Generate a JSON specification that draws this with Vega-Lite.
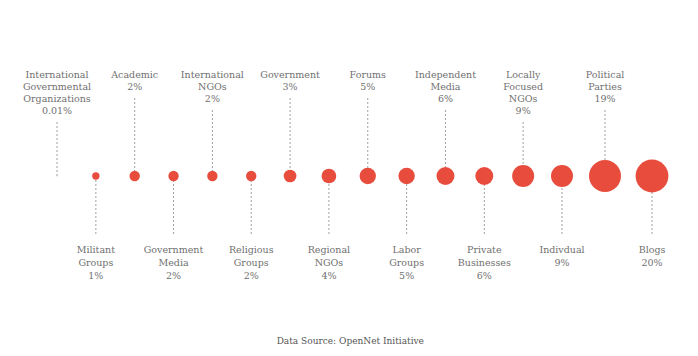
{
  "$schema": "https://vega.github.io/schema/vega-lite/v6.json",
  "width": 698,
  "height": 356,
  "padding": 0,
  "autosize": {"type": "fit", "contains": "padding"},
  "background": "white",
  "config": {"view": {"stroke": null}},
  "data": {
    "values": [
      {"order": 0, "side": "top", "value": 0.01, "label": "International\nGovernmental\nOrganizations\n0.01%"},
      {"order": 1, "side": "bottom", "value": 1, "label": "Militant\nGroups\n1%"},
      {"order": 2, "side": "top", "value": 2, "label": "Academic\n2%"},
      {"order": 3, "side": "bottom", "value": 2, "label": "Government\nMedia\n2%"},
      {"order": 4, "side": "top", "value": 2, "label": "International\nNGOs\n2%"},
      {"order": 5, "side": "bottom", "value": 2, "label": "Religious\nGroups\n2%"},
      {"order": 6, "side": "top", "value": 3, "label": "Government\n3%"},
      {"order": 7, "side": "bottom", "value": 4, "label": "Regional\nNGOs\n4%"},
      {"order": 8, "side": "top", "value": 5, "label": "Forums\n5%"},
      {"order": 9, "side": "bottom", "value": 5, "label": "Labor\nGroups\n5%"},
      {"order": 10, "side": "top", "value": 6, "label": "Independent\nMedia\n6%"},
      {"order": 11, "side": "bottom", "value": 6, "label": "Private\nBusinesses\n6%"},
      {"order": 12, "side": "top", "value": 9, "label": "Locally\nFocused\nNGOs\n9%"},
      {"order": 13, "side": "bottom", "value": 9, "label": "Indivdual\n9%"},
      {"order": 14, "side": "top", "value": 19, "label": "Political\nParties\n19%"},
      {"order": 15, "side": "bottom", "value": 20, "label": "Blogs\n20%"}
    ]
  },
  "transform": [
    {"calculate": "length(split(datum.label, '\\n'))", "as": "lines"},
    {"calculate": "74 + 12 * datum.lines", "as": "ruleTop"}
  ],
  "layer": [
    {
      "transform": [{"filter": "datum.side == 'top'"}],
      "mark": {"type": "rule", "color": "#a0a0a0", "strokeWidth": 1, "strokeDash": [2, 2]},
      "encoding": {
        "x": {"field": "order", "type": "quantitative", "scale": {"domain": [0, 13, 14, 15], "range": [57, 562, 605, 652], "nice": false, "zero": false}, "axis": null},
        "y": {"field": "ruleTop", "type": "quantitative", "scale": {"domain": [0, 356], "range": [0, 356], "nice": false, "zero": false}, "axis": null},
        "y2": {"datum": 176}
      }
    },
    {
      "transform": [{"filter": "datum.side == 'bottom'"}],
      "mark": {"type": "rule", "color": "#a0a0a0", "strokeWidth": 1, "strokeDash": [2, 2]},
      "encoding": {
        "x": {"field": "order", "type": "quantitative"},
        "y": {"datum": 176, "type": "quantitative"},
        "y2": {"datum": 236}
      }
    },
    {
      "mark": {"type": "circle", "color": "#e84c3d", "opacity": 1},
      "encoding": {
        "x": {"field": "order", "type": "quantitative"},
        "y": {"datum": 176, "type": "quantitative"},
        "size": {"field": "value", "type": "quantitative", "scale": {"domain": [0, 20], "range": [0, 1075], "nice": false}, "legend": null}
      }
    },
    {
      "transform": [{"filter": "datum.side == 'top'"}],
      "mark": {"type": "text", "font": "DejaVu Serif", "fontSize": 9.5, "color": "#707070", "baseline": "top", "align": "center", "lineBreak": "\n", "lineHeight": 12},
      "encoding": {
        "x": {"field": "order", "type": "quantitative"},
        "y": {"datum": 70, "type": "quantitative"},
        "text": {"field": "label"}
      }
    },
    {
      "transform": [{"filter": "datum.side == 'bottom'"}],
      "mark": {"type": "text", "font": "DejaVu Serif", "fontSize": 9.5, "color": "#707070", "baseline": "top", "align": "center", "lineBreak": "\n", "lineHeight": 13},
      "encoding": {
        "x": {"field": "order", "type": "quantitative"},
        "y": {"datum": 244.5, "type": "quantitative"},
        "text": {"field": "label"}
      }
    },
    {
      "data": {"values": [{"note": "Data Source: OpenNet Initiative"}]},
      "mark": {"type": "text", "font": "DejaVu Serif", "fontSize": 9, "color": "#555555", "baseline": "middle", "align": "center"},
      "encoding": {
        "x": {"datum": 7.55, "type": "quantitative"},
        "y": {"datum": 341, "type": "quantitative"},
        "text": {"field": "note"}
      }
    }
  ]
}
